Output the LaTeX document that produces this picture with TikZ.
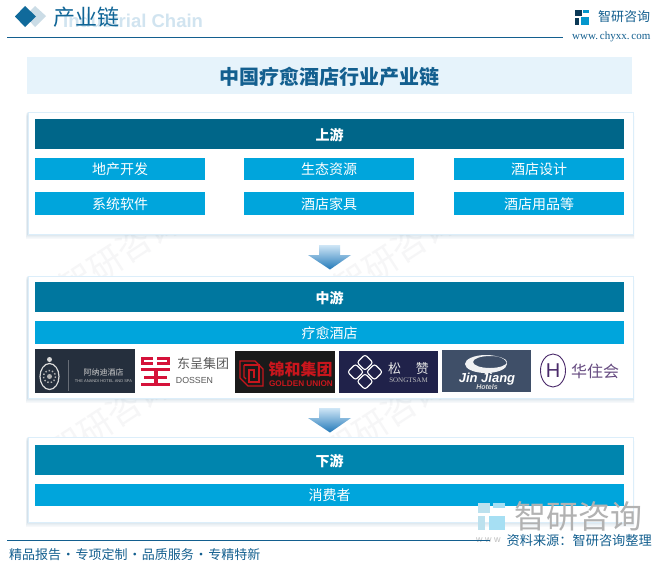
\documentclass[tikz,border=0pt]{standalone}
\usepackage{fontspec}
\setmainfont{Noto Sans CJK SC}
\newfontfamily\lat{Liberation Sans}
\newfontfamily\ser{Liberation Serif}
\usetikzlibrary{calc}
\definecolor{hdrA}{HTML}{006689}
\definecolor{hdrB}{HTML}{00779F}
\definecolor{hdrC}{HTML}{0085AE}
\definecolor{sub}{HTML}{00A5DC}
\definecolor{band}{HTML}{E6F3FB}
\definecolor{edge}{HTML}{DCEEFA}
\definecolor{navy}{HTML}{135F8F}
\definecolor{wm}{HTML}{F6F6F7}
\definecolor{lgA}{HTML}{252F3D}
\definecolor{lgC}{HTML}{1A1A1A}
\definecolor{lgD}{HTML}{20224A}
\definecolor{lgE}{HTML}{3F4F68}
\definecolor{dred}{HTML}{D5123A}
\definecolor{gred}{HTML}{C8161D}
\definecolor{hpur}{HTML}{4A2A6A}
\definecolor{arT}{HTML}{CFE6F6}
\definecolor{arM}{HTML}{6FB8E6}
\definecolor{arB}{HTML}{1F77B8}
\tikzset{
  x=1pt,y=-1pt,
  panel/.style={draw=edge,line width=1pt,fill=white,anchor=north west,inner sep=0pt},
  hdrbox/.style={anchor=north west,inner sep=0pt,minimum width=589pt,minimum height=30pt,text=white,font=\fontsize{14}{14}\selectfont\bfseries},
  subbox/.style={anchor=north west,inner sep=0pt,fill=sub,text=white,font=\fontsize{14}{14}\selectfont},
  logo/.style={anchor=north west,inner sep=0pt},
  lab/.style={inner sep=0pt,anchor=center},
  wmark/.style={text=wm,rotate=33,font=\fontsize{34}{34}\selectfont,inner sep=0pt},
}
\newcommand{\softshadow}[4]{%
  \foreach \s/\o in {6/0.015,5/0.02,4/0.025,3/0.03,2/0.04,1/0.05}{%
    \fill[navy,opacity=\o] (#1-\s*0.25,#2+\s*0.8) rectangle (#3+\s*0.25,#4+\s*0.9);}%
}
\newcommand{\blockarrow}[1]{%
  \begin{scope}
    \clip (319,#1) -- (340,#1) -- (340,#1+10) -- (351,#1+10) -- (330,#1+24.5) -- (308,#1+10) -- (319,#1+10) -- cycle;
    \shade[top color=arT,middle color=arM,bottom color=arB] (305,#1) rectangle (354,#1+25);
  \end{scope}}
\begin{document}
\begin{tikzpicture}
\useasboundingbox (0,0) rectangle (661,566);
\fill[white] (0,0) rectangle (661,566);
% watermarks
\foreach \px/\py in {120/254,395/254,110/418,385/418}{%
  \node[wmark] at (\px,\py) {智研咨询};
}
% header
\node[inner sep=0pt,text=band!90!navy,font=\lat\bfseries\fontsize{18.5}{18.5}\selectfont,anchor=west] (ghost) at (63,21) {Industrial Chain};
\fill[navy!22!white] (35,6) -- (46,16) -- (35,27) -- (25,16) -- cycle;
\fill[navy!85!sub] (25,6) -- (36,16.5) -- (25,27) -- (15,16.5) -- cycle;
\node[inner sep=0pt,anchor=west,text=navy!90!sub,font=\fontsize{22}{22}\selectfont] (ttl) at (53,17) {产业链};
\coordinate (tl) at (7,37.5); \coordinate (tr) at (563,37.5);
\draw[navy,line width=1pt] (tl) -- (tr);
% top right logo
\fill[navy!60!black] (575,10) rectangle (582,16);
\fill[navy!60!black] (575,18) rectangle (579,25);
\fill[sub!80!navy] (583,10) rectangle (589,13);
\fill[sub!80!navy] (581,17) rectangle (589,25);
\node[inner sep=0pt,anchor=west,text=navy,font=\fontsize{13}{13}\selectfont] (brand) at (598,17) {智研咨询};
\node[inner sep=0pt,anchor=west,text=navy,font=\ser\fontsize{11}{11}\selectfont] (url) at (572,37) {www.\,chyxx.\,com};
% title band
\node[anchor=north west,inner sep=0pt,fill=band,minimum width=605pt,minimum height=37pt] (title) at (27,57) {};
\node[lab,text=navy,font=\fontsize{20}{20}\selectfont\bfseries] (titletext) at ($(title.center)+(0,1)$) {中国疗愈酒店行业产业链};
% panels
\softshadow{27}{111}{633}{234}
\softshadow{27}{275}{633}{398}
\softshadow{27}{436}{633}{522}
\node[panel,minimum width=605pt,minimum height=122pt] (p1) at (27.5,111.5) {};
\node[panel,minimum width=605pt,minimum height=122pt] (p2) at (27.5,275.5) {};
\node[panel,minimum width=605pt,minimum height=85pt] (p3) at (27.5,436.5) {};
% upstream
\node[hdrbox,fill=hdrA,text depth=0pt] (up) at (35,119) {};
\node[lab,text=white,font=\fontsize{14}{14}\selectfont\bfseries] at ($(up.center)+(0,1)$) {上游};
\node[subbox,minimum width=170pt,minimum height=22pt] (a1) at (35,158) {地产开发};
\node[subbox,minimum width=170pt,minimum height=22pt] (a2) at (244,158) {生态资源};
\node[subbox,minimum width=170pt,minimum height=22pt] (a3) at (454,158) {酒店设计};
\node[subbox,minimum width=170pt,minimum height=23pt] (b1) at (35,192) {系统软件};
\node[subbox,minimum width=170pt,minimum height=23pt] (b2) at (244,192) {酒店家具};
\node[subbox,minimum width=170pt,minimum height=23pt] (b3) at (454,192) {酒店用品等};
\blockarrow{245}
% midstream
\node[hdrbox,fill=hdrB] (mid) at (35,282) {};
\node[lab,text=white,font=\fontsize{14}{14}\selectfont\bfseries] at ($(mid.center)+(0,1)$) {中游};
\node[subbox,minimum width=589pt,minimum height=23pt] (m1) at (35,321) {疗愈酒店};
% logo: Anandi
\node[logo,fill=lgA,minimum width=100pt,minimum height=44pt] (l1) at (35,349) {};
\draw[white!85!black,line width=1.2pt] (49.5,376.5) ellipse (9.5 and 13);
\draw[white!70!black,line width=1.4pt,dotted] (49.5,376.5) circle (6);
\fill[white!70!black] (49.5,376.5) circle (2.5);
\fill[white!85!black] (49.5,359.5) circle (2.5);
\draw[white!30!lgA,line width=.6pt] (68,360) -- (68,391);
\node[lab,text=white!80!black,font=\fontsize{8}{8}\selectfont] at (103.5,372) {阿纳迪酒店};
\node[lab,text=white!75!black,font=\lat\fontsize{4}{4}\selectfont] at (103.5,381.5) {THE ANANDI HOTEL AND SPA};
% logo: Dossen
\fill[dred] (141,357) rectangle (153,360);
\fill[dred] (141,357) rectangle (144,364);
\fill[dred] (141,362) rectangle (153,365);
\fill[dred] (157,357) rectangle (170,360);
\fill[dred] (167,357) rectangle (170,364);
\fill[dred] (157,362) rectangle (170,365);
\fill[dred] (141,368) rectangle (170,371);
\fill[dred] (153.5,368) rectangle (157.5,385);
\fill[dred] (144,375.5) rectangle (167,378.5);
\fill[dred] (141,382.5) rectangle (170,386);
\node[lab,text=black!65,font=\fontsize{13}{13}\selectfont] at (203,364) {东呈集团};
\node[lab,text=black!65,font=\lat\fontsize{8.8}{9}\selectfont] at (194.5,380.5) {DOSSEN};
% logo: Golden Union
\node[logo,fill=lgC,minimum width=100pt,minimum height=42pt] (l3) at (235,351) {};
\draw[gred,line width=1.2pt] (240,361) -- (255,361) -- (263,369) -- (263,386) -- (248,386) -- (240,378) -- cycle;
\draw[gred,line width=1.2pt] (244,365) -- (259,365) -- (259,382) -- (249,382) -- (249,370) -- (254,370) -- (254,378);
\draw[gred,line width=1.2pt] (244,365) -- (244,377) -- (246,379);
\node[lab,text=gred,font=\fontsize{16}{16}\selectfont\bfseries] at (300.5,369.5) {锦和集团};
\node[lab,text=gred,font=\lat\bfseries\fontsize{8.2}{8}\selectfont] at (301,383.5) {GOLDEN UNION};
% logo: Songtsam
\node[logo,fill=lgD,minimum width=99pt,minimum height=42pt] (l4) at (339,351) {};
\foreach \a/\b in {0/-9.5,0/9.5,-9.5/0,9.5/0}{%
  \draw[white,line width=1.1pt,rounded corners=2.5pt] (365+\a,372+\b-8) -- (365+\a+8,372+\b) -- (365+\a,372+\b+8) -- (365+\a-8,372+\b) -- cycle;}
\node[lab,text=white!90!black,font=\fontsize{13}{13}\selectfont] at (408.5,368.5) {松\hspace{15pt}赞};
\node[lab,text=white!75!black,font=\ser\fontsize{7}{7}\selectfont] at (408.5,380.5) {SONGTSAM};
% logo: Jin Jiang
\node[logo,fill=lgE,minimum width=89pt,minimum height=42pt] (l5) at (442,350) {};
\fill[white!92!lgE,even odd rule] (486,364) ellipse (21 and 9) (490,362) ellipse (17 and 6);
\node[lab,text=white,font=\lat\bfseries\itshape\fontsize{13}{13}\selectfont] at (487,379) {Jin\ Jiang};
\node[lab,text=white!85!black,font=\lat\bfseries\itshape\fontsize{7}{7}\selectfont] at (487,386.5) {Hotels};
% logo: Huazhu
\draw[hpur,line width=.9pt] (553,370.5) ellipse (12.5 and 16.5);
\node[lab,text=hpur,font=\lat\fontsize{20}{20}\selectfont] at (553,370.5) {H};
\node[lab,text=hpur!85,font=\fontsize{16}{16}\selectfont] at (595,371) {华住会};
\blockarrow{408}
% downstream
\node[hdrbox,fill=hdrC] (down) at (35,445) {};
\node[lab,text=white,font=\fontsize{14}{14}\selectfont\bfseries] at ($(down.center)+(0,1)$) {下游};
\node[subbox,minimum width=589pt,minimum height=22pt] (d1) at (35,484) {消费者};
% big gray brand mark
\fill[gray!25!sub!30!white] (478,503) rectangle (490,513);
\fill[gray!25!sub!30!white] (478,516) rectangle (485,530);
\fill[sub!35!white] (493,503) rectangle (505,508);
\fill[sub!35!white] (489,516) rectangle (505,530);
\node[inner sep=0pt,anchor=west,text=black!30,font=\fontsize{32}{32}\selectfont] (bigbrand) at (514,516) {智研咨询};
\node[inner sep=0pt,anchor=west,text=black!25,font=\lat\fontsize{9}{9}\selectfont] (bigurl) at (476,540) {w w w};
% footer
\coordinate (bl) at (7,540.5); \coordinate (br) at (490,540.5);
\draw[navy,line width=1pt] (bl) -- (br);
\node[inner sep=0pt,anchor=east,text=navy,font=\fontsize{13.2}{13.2}\selectfont] (source) at (652,541) {资料来源：智研咨询整理};
\node[inner sep=0pt,anchor=west,text=navy,font=\fontsize{13}{13}\selectfont] (slogan) at (9,555) {精品报告\hspace{.7pt}·\hspace{.7pt}专项定制\hspace{.7pt}·\hspace{.7pt}品质服务\hspace{.7pt}·\hspace{.7pt}专精特新};
\end{tikzpicture}
\end{document}
